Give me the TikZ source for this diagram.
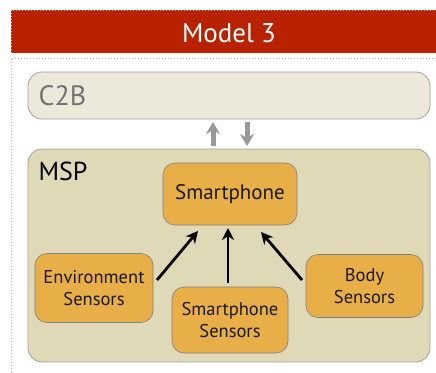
\documentclass[tikz,border=0pt]{standalone}
\usepackage{fontspec}
\setmainfont{PT Sans}
\usetikzlibrary{arrows.meta}
\definecolor{barred}{RGB}{184,34,0}
\definecolor{cbfill}{RGB}{237,233,218}
\definecolor{mspfill}{RGB}{224,217,184}
\definecolor{nodefill}{RGB}{232,174,72}
\definecolor{frameline}{RGB}{160,160,160}
\tikzset{
  panel/.style={draw=frameline, line width=0.8pt, rounded corners=14pt},
  sensor/.style={draw=frameline!80!black, line width=0.6pt, fill=nodefill, rounded corners=12pt,
    align=center, inner sep=0pt, text=black!90, font=\fontsize{18.5}{22}\selectfont},
  flow/.style={-{Stealth[length=12pt,width=12pt]}, line width=2.8pt, black},
  link/.style={-{Stealth[length=12pt,width=14pt]}, line width=5pt, black!40}
}
\begin{document}
\begin{tikzpicture}[x=1pt,y=-1pt]
\useasboundingbox (0,0) rectangle (436,372);
\fill[white] (0,0) rectangle (436,372);
% frame with title bar
\fill[barred] (11,10) rectangle (436,53);
\draw[black!30, dotted, line width=1pt] (11,372) -- (11,58) -- (436,58);
\draw[black!30, dotted, line width=1pt] (11,53) -- (11,10) -- (436,10);
\node[text=white, font=\fontsize{27}{30}\selectfont] (title) at (229,33) {Model 3};
% C2B layer
\draw[panel, fill=cbfill] (28,72) rectangle (430,119);
\node[anchor=west, text=black!55, font=\fontsize{28}{30}\selectfont] (c2b) at (35,96) {C2B};
% MSP layer
\draw[panel, fill=mspfill] (28,149) rectangle (430,362);
\node[anchor=west, font=\fontsize{26}{30}\selectfont] (msp) at (35,171) {MSP};
% nodes
\node[sensor, minimum width=134pt, minimum height=62pt, font=\fontsize{21}{24}\selectfont] (phone) at (230,194) {Smartphone};
\node[sensor, minimum width=118pt, minimum height=69pt] (env) at (94,288) {Environment\\Sensors};
\node[sensor, minimum width=116pt, minimum height=66pt] (ps) at (230,320) {Smartphone\\Sensors};
\node[sensor, minimum width=117pt, minimum height=63pt] (body) at (364.5,286) {Body\\Sensors};
% exchange between layers
\coordinate (ua) at (213,146);
\coordinate (ub) at (213,122);
\coordinate (da) at (247,122);
\coordinate (db) at (247,146);
\draw[link] (ua) -- (ub);
\draw[link] (da) -- (db);
% sensor data flow
\coordinate (e1) at (157,280);
\coordinate (e2) at (198,231);
\coordinate (b1) at (302,280);
\coordinate (b2) at (261,232);
\coordinate (m1) at (228,283);
\coordinate (m2) at (228,228);
\draw[flow] (e1) -- (e2);
\draw[flow] (m1) -- (m2);
\draw[flow] (b1) -- (b2);
\end{tikzpicture}
\end{document}
